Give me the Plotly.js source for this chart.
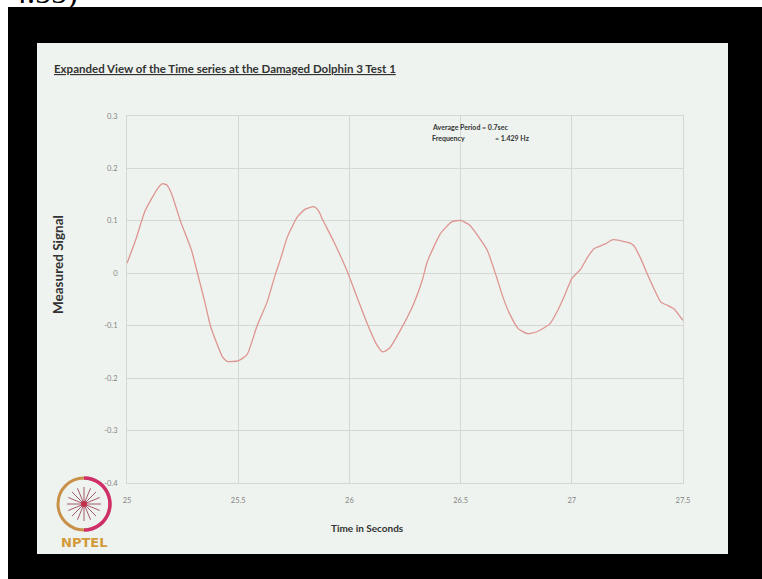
<!DOCTYPE html>
<html>
<head>
<meta charset="utf-8">
<script src="https://cdn.plot.ly/plotly-3.0.1.min.js"></script>
<style>html,body{margin:0;padding:0;background:#fff;}#chart{width:762px;height:579px;}</style>
</head>
<body>
<div id="chart"></div>
<script>
// ---- data ----
var timeSeconds = [25.00,25.04,25.08,25.11,25.14,25.16,25.18,25.20,25.24,25.29,25.32,25.35,25.375,25.405,25.43,25.45,25.50,25.54,25.585,25.63,25.665,25.69,25.72,25.765,25.80,25.84,25.86,25.88,25.93,25.99,26.04,26.08,26.12,26.15,26.18,26.23,26.29,26.33,26.35,26.41,26.46,26.50,26.54,26.58,26.62,26.66,26.69,26.72,26.76,26.80,26.84,26.90,26.94,26.97,27.00,27.04,27.07,27.10,27.15,27.185,27.22,27.26,27.28,27.31,27.34,27.37,27.40,27.43,27.46,27.50];
var measuredSignal = [0.019,0.065,0.118,0.142,0.163,0.171,0.168,0.152,0.100,0.044,-0.005,-0.055,-0.100,-0.135,-0.160,-0.168,-0.167,-0.155,-0.100,-0.055,-0.005,0.027,0.068,0.107,0.122,0.127,0.120,0.102,0.060,0.004,-0.052,-0.096,-0.134,-0.150,-0.143,-0.108,-0.057,-0.010,0.022,0.076,0.098,0.101,0.092,0.070,0.044,-0.005,-0.045,-0.077,-0.106,-0.115,-0.112,-0.097,-0.068,-0.040,-0.010,0.008,0.030,0.047,0.056,0.064,0.062,0.058,0.052,0.028,-0.002,-0.030,-0.055,-0.061,-0.068,-0.090];
var xTickVals = [25, 25.5, 26, 26.5, 27, 27.5];
var xTickText = ["25", "25.5", "26", "26.5", "27", "27.5"];
var yTickVals = [0.3, 0.2, 0.1, 0, -0.1, -0.2, -0.3, -0.4];
var yTickText = ["0.3", "0.2", "0.1", "0", "-0.1", "-0.2", "-0.3", "-0.4"];
var chartTitle = "Expanded View of the Time series at the Damaged Dolphin 3 Test 1";
var xTitle = "Time in Seconds";
var yTitle = "Measured Signal";
var noteLine1 = "Average Period = 0.7sec";
var noteLine2a = "Frequency";
var noteLine2b = "= 1.429 Hz";
var cornerText = "4.55)";

// ---- layout geometry (pixels) ----
var L = 127, R = 683, T = 116, B = 483;
function px(x) { return (x - L) / (R - L); }
function py(y) { return (B - y) / (B - T); }

var tickFont = {family: "Lato, 'Open Sans', sans-serif", size: 7.5, color: "#858585"};
var grid = "#d3d8d3";

var shapes = [
  {type: "rect", xref: "paper", yref: "paper", x0: px(8), x1: px(770), y0: py(7), y1: py(590), fillcolor: "#000", line: {width: 0}, layer: "below"},
  {type: "rect", xref: "paper", yref: "paper", x0: px(37), x1: px(728), y0: py(43), y1: py(554), fillcolor: "#eff3ef", line: {width: 0}, layer: "below"},
  // NPTEL logo (decorative)
  {type: "circle", xref: "paper", yref: "paper", x0: px(58), x1: px(110), y0: py(478), y1: py(530), line: {color: "#c9904a", width: 3}, layer: "above"}
];
(function(){
  var cx = 84, cy = 504, r = 17;
  for (var k = 0; k < 8; k++) {
    var a = k * Math.PI / 8;
    shapes.push({type: "line", xref: "paper", yref: "paper",
      x0: px(cx + r * Math.cos(a)), y0: py(cy + r * Math.sin(a)),
      x1: px(cx - r * Math.cos(a)), y1: py(cy - r * Math.sin(a)),
      line: {color: "#a5586a", width: 1}});
  }
  shapes.push({type: "circle", xref: "paper", yref: "paper", x0: px(cx - 3), x1: px(cx + 3), y0: py(cy - 3), y1: py(cy + 3), fillcolor: "#c0304a", line: {width: 0}});
  // magenta right half of the ring
  var rr = 26, p = "";
  for (var j = 0; j <= 20; j++) {
    var t = -Math.PI / 2 + Math.PI * j / 20;
    var xx = px(cx + rr * Math.cos(t)), yy = py(cy + rr * Math.sin(t));
    p += (j === 0 ? "M " : " L ") + xx + "," + yy;
  }
  shapes.push({type: "path", xref: "paper", yref: "paper", path: p, line: {color: "#d0306a", width: 3.5}});
})();

var annotations = [
  {text: "<u>" + chartTitle + "</u>", xref: "paper", yref: "paper", x: px(52), y: py(68), xanchor: "left", yanchor: "middle", showarrow: false,
   font: {family: "Lato, sans-serif", size: 11.5, color: "#333", weight: 700}},
  {text: yTitle, xref: "paper", yref: "paper", x: px(58), y: py(265), xanchor: "center", yanchor: "middle", textangle: -90, showarrow: false,
   font: {family: "Lato, sans-serif", size: 13.5, color: "#333", weight: 700}},
  {text: xTitle, xref: "paper", yref: "paper", x: px(367), y: py(528), xanchor: "center", yanchor: "middle", showarrow: false,
   font: {family: "Lato, sans-serif", size: 10, color: "#333", weight: 700}},
  {text: noteLine1, xref: "paper", yref: "paper", x: px(430), y: py(127), xanchor: "left", yanchor: "middle", showarrow: false,
   font: {family: "Lato, sans-serif", size: 7, color: "#333", weight: 700}},
  {text: noteLine2a, xref: "paper", yref: "paper", x: px(430), y: py(138), xanchor: "left", yanchor: "middle", showarrow: false,
   font: {family: "Lato, sans-serif", size: 7, color: "#333", weight: 700}},
  {text: noteLine2b, xref: "paper", yref: "paper", x: px(493), y: py(138), xanchor: "left", yanchor: "middle", showarrow: false,
   font: {family: "Lato, sans-serif", size: 7, color: "#333", weight: 700}},
  {text: "NPTEL", xref: "paper", yref: "paper", x: px(84), y: py(542), xanchor: "center", yanchor: "middle", showarrow: false,
   font: {family: "'DejaVu Sans', sans-serif", size: 13, color: "#d39a3a", weight: 700}},
  {text: cornerText, xref: "paper", yref: "paper", x: px(80), y: py(-8), xanchor: "right", yanchor: "middle", showarrow: false,
   font: {family: "'Liberation Serif', serif", size: 32, color: "#000"}}
];

var trace = {
  x: timeSeconds, y: measuredSignal, type: "scatter", mode: "lines",
  line: {color: "#de9591", width: 1.3, shape: "spline", smoothing: 0.5},
  hoverinfo: "x+y"
};

var layout = {
  width: 762, height: 579,
  margin: {l: L, r: 762 - R, t: T, b: 579 - B, pad: 0},
  paper_bgcolor: "#ffffff",
  plot_bgcolor: "rgba(0,0,0,0)",
  showlegend: false,
  xaxis: {range: [25, 27.5], tickvals: xTickVals, ticktext: xTickText, showgrid: true, gridcolor: grid, gridwidth: 1,
          zeroline: false, showline: true, linecolor: grid, linewidth: 1, mirror: true, ticks: "",
          ticklabelstandoff: 10, tickfont: tickFont, fixedrange: true},
  yaxis: {range: [-0.4, 0.3], tickvals: yTickVals, ticktext: yTickText, showgrid: true, gridcolor: grid, gridwidth: 1,
          zeroline: false, showline: true, linecolor: grid, linewidth: 1, mirror: true, ticks: "",
          ticklabelstandoff: 7, tickfont: tickFont, fixedrange: true},
  shapes: shapes,
  annotations: annotations
};

Plotly.newPlot("chart", [trace], layout, {displayModeBar: false, staticPlot: true});
</script>
</body>
</html>
